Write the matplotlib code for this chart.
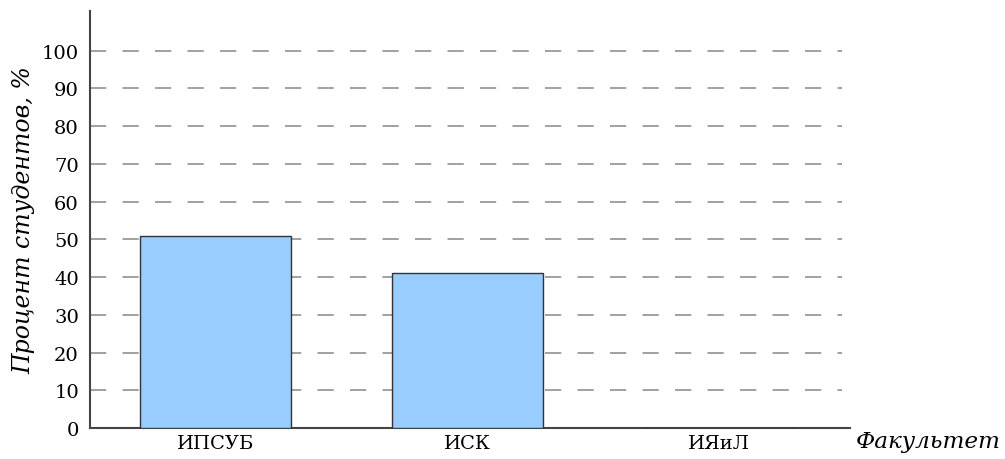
import matplotlib.pyplot as plt

# Данные
faculties = ['ИПСУБ', 'ИСК', 'ИЯиЛ']
percents = [51, 41, 0]
yticks = list(range(0, 101, 10))

plt.rcParams['font.family'] = 'DejaVu Serif'

fig = plt.figure(figsize=(10.05, 4.6), dpi=100)
ax = fig.add_axes([0.0896, 0.0674, 0.7562, 0.9066])

ax.bar(range(len(faculties)), percents, width=0.6, color='#99ccff',
       edgecolor='#333333', linewidth=1.0, zorder=3)

ax.set_xlim(-0.5, 2.52)
ax.set_ylim(0, 110.5)
ax.set_yticks(yticks)
ax.set_xticks(range(len(faculties)))
ax.set_xticklabels(faculties, fontsize=14)
ax.tick_params(axis='y', length=0, labelsize=14, pad=8)
ax.tick_params(axis='x', length=0, pad=4)

# пунктирная сетка, чуть короче оси x
for y in yticks[1:]:
    ax.axhline(y, xmin=0, xmax=0.99, color='#9a9a9a', linewidth=1.3,
               linestyle=(0, (9, 9)), zorder=0)

for s in ['top', 'right']:
    ax.spines[s].set_visible(False)
for s in ['left', 'bottom']:
    ax.spines[s].set_color('#444444')
    ax.spines[s].set_linewidth(1.5)

ax.set_ylabel('Процент студентов, %', fontsize=17, fontstyle='italic', labelpad=5)
fig.text(0.851, 0.04, 'Факультет', fontsize=16.7, fontstyle='italic', va='center', ha='left')

fig.savefig('out.png', dpi=100)
